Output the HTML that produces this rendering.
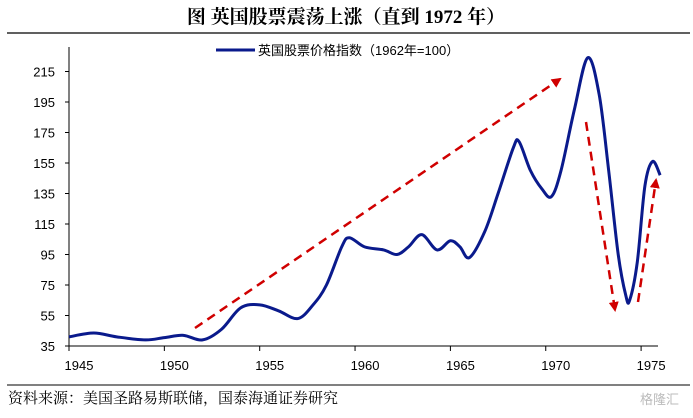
<!DOCTYPE html>
<html><head><meta charset="utf-8">
<style>
body{margin:0;background:#fff;width:693px;height:413px;overflow:hidden;font-family:"Liberation Sans","Noto Sans CJK SC",sans-serif}
</style></head><body>
<svg width="693" height="413" viewBox="0 0 693 413">
<text x="346" y="23" text-anchor="middle" font-family="Liberation Serif,'Noto Serif CJK SC',serif" font-weight="bold" font-size="19">图  英国股票震荡上涨（直到 1972 年）</text>
<line x1="7" y1="33" x2="690" y2="33" stroke="#000" stroke-width="1.2"/>
<g id="axes"></g>
<g id="series"></g>
<g>
<line x1="216" y1="50" x2="255" y2="50" stroke="#0a1a8c" stroke-width="3"/>
<text x="258" y="55" font-size="13" font-family="'Liberation Sans','Noto Sans CJK SC',sans-serif">英国股票价格指数（1962年=100）</text>
</g>
<defs><marker id="ah" viewBox="0 0 10 10" refX="8" refY="5" markerWidth="4" markerHeight="4" orient="auto"><path d="M0,0L10,5L0,10z" fill="#d00000"/></marker></defs>
<line x1="195" y1="328" x2="560" y2="79" stroke="#d00000" stroke-width="2.5" stroke-dasharray="9,6" marker-end="url(#ah)"/>
<line x1="586" y1="122" x2="615" y2="310" stroke="#d00000" stroke-width="2.5" stroke-dasharray="9,6" marker-end="url(#ah)"/>
<line x1="638" y1="302" x2="656" y2="180" stroke="#d00000" stroke-width="2.5" stroke-dasharray="9,6" marker-end="url(#ah)"/>
<line x1="7" y1="385" x2="690" y2="385" stroke="#000" stroke-width="1"/>
<text x="8" y="403" font-size="15" font-family="'Liberation Serif','Noto Serif CJK SC',serif">资料来源：美国圣路易斯联储，国泰海通证券研究</text>
<text x="640" y="404" font-size="13" fill="#bbb" font-family="'Noto Sans CJK SC',sans-serif">格隆汇</text>
</svg>
<script>
const years=[1945,1946.3,1947.5,1949,1950,1951,1952,1953,1954,1955,1956,1957,1957.8,1958.5,1959.3,1959.7,1960.5,1961.5,1962.2,1962.8,1963.5,1964.3,1965,1965.5,1966,1966.8,1967.5,1968.3,1968.6,1969.2,1969.8,1970.3,1970.8,1971.5,1972.2,1972.8,1973.3,1973.8,1974.2,1974.4,1974.8,1975.2,1975.6,1976];
const values=[41,43.5,41,39,40.5,42,39,46,60,62,58,53,62,75,100,106,100,98,95,100,108,98,104,100,93,110,135,165,169,150,138,133,150,190,224,200,150,95,68,65,90,140,156,147];
const yTicks=[35,55,75,95,115,135,155,175,195,215];
const xTicks=[1945,1950,1955,1960,1965,1970,1975];
const NS="http://www.w3.org/2000/svg";
const X=y=>69+(y-1945)*19.07;
const Y=v=>346-(v-35)*1.525;
const ax=document.getElementById('axes');
function mk(t,a,p){const e=document.createElementNS(NS,t);for(const k in a)e.setAttribute(k,a[k]);p.appendChild(e);return e;}
const ya=mk('line',{x1:69,y1:47,x2:69,y2:346,stroke:'#000'},ax);


const xa=mk('line',{x1:69,y1:346,x2:658,y2:346,stroke:'#000'},ax);


yTicks.forEach(v=>{
 mk('line',{x1:65,y1:Y(v),x2:69,y2:Y(v),stroke:'#000'},ax);
 const t=mk('text',{x:55,y:Y(v)+5,'text-anchor':'end','font-size':13},ax);t.textContent=v;
 
 
});
xTicks.forEach(v=>{
 mk('line',{x1:X(v),y1:346,x2:X(v),y2:351,stroke:'#000'},ax);
 const t=mk('text',{x:X(v)+10,y:370,'text-anchor':'middle','font-size':13},ax);t.textContent=v;
 
 
});
const pts=years.map((y,i)=>[X(y),Y(values[i])]);
let d='M'+pts[0][0]+','+pts[0][1];
for(let i=0;i<pts.length-1;i++){
 const p0=pts[Math.max(0,i-1)],p1=pts[i],p2=pts[i+1],p3=pts[Math.min(pts.length-1,i+2)];
 const c1=[p1[0]+(p2[0]-p0[0])/6,p1[1]+(p2[1]-p0[1])/6];
 const c2=[p2[0]-(p3[0]-p1[0])/6,p2[1]-(p3[1]-p1[1])/6];
 d+=`C${c1[0]},${c1[1]} ${c2[0]},${c2[1]} ${p2[0]},${p2[1]}`;
}
const ln=mk('path',{d:d,fill:'none',stroke:'#0a1a8c','stroke-width':3},document.getElementById('series'));


</script>
</body></html>
